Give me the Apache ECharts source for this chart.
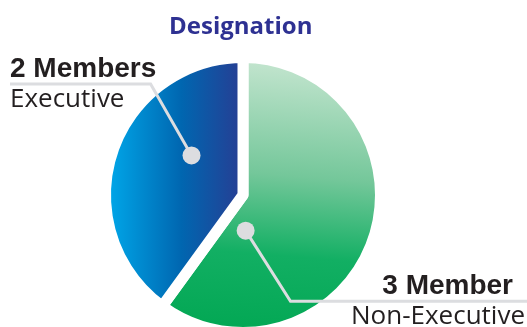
<!DOCTYPE html>
<html>
<head>
<meta charset="utf-8">
<script src="https://cdn.jsdelivr.net/npm/echarts@6/dist/echarts.min.js"></script>
<style>
  html, body { margin: 0; padding: 0; background: #fff; }
  #chart { width: 527px; height: 327px; }
</style>
</head>
<body>
<div id="chart"></div>
<script>
// 数据
const categories = ['Non-Executive', 'Executive'];
const counts = [3, 2];
const headings = ['3 Member', '2 Members'];

// 饼图位置
const cx = 243, cy = 195, r = 132, gap = 11;

// 引导线: 圆点 / 拐点 (以半径为单位的偏移), 终点x
const leaders = [
  { dot: [0.02, 0.27], bend: [0.36, 0.805], endX: 527, align: 'right', textX: 525, headPad: 12 },
  { dot: [-0.39, -0.30], bend: [-0.70, -0.84], endX: 10, align: 'left', textX: 10, headPad: 0 }
];

const gradients = [
  new echarts.graphic.LinearGradient(0.1, 0, 0, 1, [
    { offset: 0, color: '#c4e5cf' },
    { offset: 0.4, color: '#74c79a' },
    { offset: 0.68, color: '#12af63' },
    { offset: 1, color: '#00a651' }
  ]),
  new echarts.graphic.LinearGradient(0, 0, 1, 0, [
    { offset: 0, color: '#00aeef' },
    { offset: 0.55, color: '#0066b0' },
    { offset: 1, color: '#2b3990' }
  ])
];

const pt = (p) => [cx + p[0] * r, cy + p[1] * r];

const chartDom = document.getElementById('chart');
const chart = echarts.init(chartDom);

// 引导线和圆点 (画在饼图上面)
const guides = [];
leaders.forEach((l) => {
  const d = pt(l.dot);
  const b = pt(l.bend);
  guides.push({
    type: 'polyline',
    z: 90,
    shape: { points: [d, b, [l.endX, b[1]]] },
    style: { stroke: '#dcdde0', lineWidth: 3, fill: null }
  });
  guides.push({
    type: 'circle',
    z: 100,
    shape: { cx: d[0], cy: d[1], r: 9 },
    style: { fill: '#dcdde0' }
  });
});

const option = {
  backgroundColor: '#ffffff',
  animation: false,
  title: {
    text: 'Designation',
    left: 164,
    top: 10,
    textStyle: {
      fontFamily: 'Open Sans',
      fontWeight: 'bold',
      fontSize: 24,
      color: '#2e3192'
    }
  },
  graphic: guides,
  series: [
    {
      type: 'pie',
      center: [cx, cy],
      radius: r + gap / 2,
      startAngle: 90,
      clockwise: true,
      avoidLabelOverlap: false,
      itemStyle: {
        borderColor: '#ffffff',
        borderWidth: gap
      },
      label: {
        show: true,
        position: 'outside',
        formatter: (p) => '{v' + p.dataIndex + '|' + headings[p.dataIndex] + '}\n{n|' + p.name + '}',
        rich: {
          v0: {
            fontFamily: 'Liberation Sans',
            fontWeight: 'bold',
            fontSize: 28,
            lineHeight: 30,
            padding: [0, leaders[0].headPad, 0, 0],
            color: '#231f20'
          },
          v1: {
            fontFamily: 'Liberation Sans',
            fontWeight: 'bold',
            fontSize: 28,
            lineHeight: 30,
            padding: [0, leaders[1].headPad, 0, 0],
            color: '#231f20'
          },
          n: {
            fontFamily: 'Open Sans',
            fontSize: 26,
            lineHeight: 30,
            color: '#231f20'
          }
        }
      },
      labelLine: { show: false },
      labelLayout: (params) => {
        const l = leaders[params.dataIndex];
        const b = pt(l.bend);
        return {
          x: l.textX,
          y: b[1],
          align: l.align,
          verticalAlign: 'middle'
        };
      },
      emphasis: { disabled: true },
      data: categories.map((name, i) => ({
        name: name,
        value: counts[i],
        itemStyle: { color: gradients[i] }
      }))
    }
  ]
};

option && chart.setOption(option);
window.addEventListener('resize', () => chart.resize());
</script>
</body>
</html>
